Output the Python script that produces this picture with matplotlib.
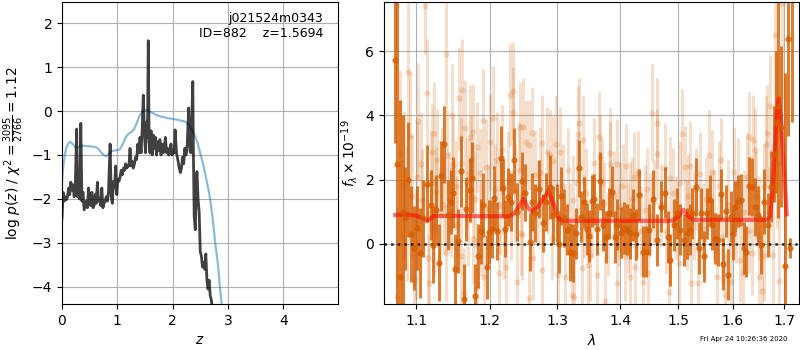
import matplotlib
matplotlib.use("Agg")
import matplotlib.pyplot as plt
from matplotlib.ticker import FixedLocator, FixedFormatter, NullLocator

# ---------------- left panel: redshift probability ----------------
z_pz = [0.00, 0.02, 0.04, 0.06, 0.08, 0.10, 0.12, 0.14, 0.16, 0.18,
        0.20, 0.22, 0.24, 0.265, 0.28, 0.30, 0.315, 0.34, 0.36, 0.38,
        0.40, 0.42, 0.44, 0.46, 0.48, 0.50, 0.52, 0.54, 0.56, 0.58,
        0.60, 0.62, 0.64, 0.66, 0.68, 0.70, 0.72, 0.74, 0.76, 0.78,
        0.80, 0.82, 0.84, 0.87, 0.89, 0.91, 0.93, 0.95, 0.97, 0.99,
        1.01, 1.03, 1.05, 1.07, 1.09, 1.11, 1.13, 1.15, 1.17, 1.19,
        1.21, 1.23, 1.25, 1.27, 1.29, 1.31, 1.33, 1.35, 1.37, 1.39,
        1.41, 1.43, 1.45, 1.47, 1.49, 1.51, 1.53, 1.545, 1.56, 1.575,
        1.59, 1.61, 1.63, 1.65, 1.67, 1.69, 1.71, 1.73, 1.75, 1.77,
        1.79, 1.81, 1.83, 1.85, 1.87, 1.89, 1.91, 1.93, 1.95, 1.97,
        1.99, 2.01, 2.03, 2.045, 2.07, 2.10, 2.12, 2.14, 2.16, 2.18,
        2.20, 2.22, 2.24, 2.26, 2.29, 2.31, 2.33, 2.365, 2.375, 2.39,
        2.41, 2.43, 2.44, 2.46, 2.48, 2.50, 2.52, 2.54, 2.56, 2.58,
        2.60, 2.62, 2.64, 2.66, 2.68, 2.70, 2.72]
logp = [-2.44, -1.85, -2.05, -1.95, -2.02, -1.95, -1.75, -1.90, -1.62, -1.80,
        -1.68, -1.95, -1.70, -0.41, -1.95, -1.55, -2.00, -0.28, -2.05, -1.85,
        -2.25, -2.15, -2.05, -2.20, -1.75, -2.10, -2.15, -1.85, -2.20, -2.15,
        -1.90, -2.10, -1.62, -2.05, -2.00, -2.15, -1.75, -2.20, -2.10, -2.05,
        -1.95, -2.05, -1.85, -0.75, -1.95, -2.10, -1.60, -1.75, -1.25, -1.90,
        -1.55, -1.60, -1.50, -1.35, -1.45, -1.30, -1.35, -1.20, -1.30, -1.25,
        -1.25, -0.85, -1.25, -1.15, -1.30, -1.20, -1.05, -1.10, -0.75, -0.95,
        -0.60, -0.95, -0.40, 0.36, -0.50, -0.95, -0.25, -0.60, 1.60, -0.70,
        -0.95, -0.45, -1.00, -0.55, -0.85, -0.60, -1.00, -0.70, -0.90, -0.65,
        -1.00, -0.75, -0.95, -0.85, -0.60, -0.95, -0.85, -1.00, -0.90, -0.75,
        -1.00, -0.90, -0.95, -0.43, -0.95, -1.15, -1.30, -1.40, -1.30, -1.05,
        -1.20, -0.85, -1.00, -0.90, 0.07, -0.75, -0.95, 0.67, -0.90, -2.40,
        -2.70, -1.60, -1.38, -2.00, -2.30, -3.20, -3.30, -3.55, -3.45, -3.60,
        -3.25, -3.85, -4.05, -3.85, -4.20, -4.30, -4.50]

z_chi = [0.00, 0.02, 0.05, 0.08, 0.12, 0.15, 0.20, 0.25, 0.30, 0.35,
         0.40, 0.45, 0.50, 0.55, 0.60, 0.65, 0.70, 0.75, 0.80, 0.85,
         0.90, 0.95, 1.00, 1.05, 1.10, 1.15, 1.20, 1.25, 1.30, 1.35,
         1.40, 1.45, 1.50, 1.55, 1.60, 1.65, 1.70, 1.75, 1.80, 1.85,
         1.90, 1.95, 2.00, 2.05, 2.10, 2.15, 2.20, 2.25, 2.30, 2.35,
         2.40, 2.45, 2.50, 2.55, 2.60, 2.65, 2.68, 2.72, 2.77, 2.82,
         2.86, 2.90]
chi_curve = [-1.60, -1.30, -1.00, -0.82, -0.73, -0.70, -0.76, -0.84, -0.82, -0.79,
             -0.79, -0.80, -0.80, -0.81, -0.82, -0.85, -0.93, -1.00, -1.03, -0.97,
             -0.91, -0.90, -0.89, -0.87, -0.75, -0.60, -0.52, -0.48, -0.42, -0.28,
             -0.11, -0.02, 0.02, 0.02, -0.03, -0.05, -0.09, -0.11, -0.13, -0.14,
             -0.16, -0.17, -0.18, -0.19, -0.20, -0.22, -0.23, -0.26, -0.33, -0.43,
             -0.56, -0.72, -0.96, -1.20, -1.50, -1.80, -2.02, -2.40, -3.00, -3.50,
             -4.07, -4.55]

obj_root = "j021524m0343"
obj_id = 882
obj_z = 1.5694
chi2_num, chi2_den, chi2_red = 3095, 2766, 1.12
stamp = "Fri Apr 24 10:26:36 2020"

# ---------------- right panel: spectrum ----------------
dark_wave = [1.0726, 1.0760, 1.0794, 1.0830, 1.0853, 1.0897, 1.0935, 1.0974, 1.1010, 1.1048,
             1.1095, 1.1148, 1.1193, 1.1228, 1.1268, 1.1308, 1.1335, 1.1375, 1.1420, 1.1461,
             1.1490, 1.1520, 1.1561, 1.1606, 1.1647, 1.1675, 1.1721, 1.1758, 1.1800, 1.1842,
             1.1875, 1.1907, 1.1955, 1.1993, 1.2030, 1.2063, 1.2111, 1.2159, 1.2197, 1.2226,
             1.2265, 1.2313, 1.2353, 1.2400, 1.2460, 1.2515, 1.2579, 1.2620, 1.2663, 1.2714,
             1.2779, 1.2829, 1.2880, 1.2930, 1.2992, 1.3030, 1.3059, 1.3100, 1.3146, 1.3197,
             1.3250, 1.3291, 1.3333, 1.3375, 1.3422, 1.3460, 1.3502, 1.3539, 1.3577, 1.3630,
             1.3678, 1.3727, 1.3771, 1.3825, 1.3869, 1.3918, 1.3957, 1.4011, 1.4067, 1.4111,
             1.4167, 1.4211, 1.4268, 1.4324, 1.4380, 1.4436, 1.4492, 1.4561, 1.4618, 1.4699,
             1.4758, 1.4816, 1.4857, 1.4915, 1.4975, 1.5033, 1.5093, 1.5152, 1.5200, 1.5242,
             1.5315, 1.5362, 1.5405, 1.5459, 1.5515, 1.5575, 1.5616, 1.5656, 1.5717, 1.5767,
             1.5822, 1.5866, 1.5903, 1.5967, 1.6000, 1.6042, 1.6093, 1.6144, 1.6202, 1.6246,
             1.6311, 1.6362, 1.6427, 1.6478, 1.6543, 1.6608, 1.6674, 1.6739, 1.6792, 1.6838,
             1.6885, 1.6939, 1.7006, 1.7067, 1.7108, 1.7158]
dark_flux = [5.74, 2.50, -1.02, 1.00, 0.80, 2.00, 0.30, -0.13, 0.50, -0.29,
             0.80, 1.87, 1.21, -0.03, 1.06, -0.58, 2.11, 3.10, 0.90, 1.30,
             1.60, -0.78, 0.09, 2.26, -1.71, 1.08, 1.67, 2.06, -1.62, -0.37,
             0.39, 1.22, -0.72, 0.38, 0.47, 1.43, 0.41, 2.66, 1.75, 0.48,
             1.47, 1.30, 2.60, 1.00, 1.96, 1.60, 0.07, 1.30, 0.95, 1.70,
             0.64, 1.30, 1.78, 0.90, 0.95, 0.00, 1.49, 0.80, 0.44, -0.26,
             -0.29, 0.33, 2.35, 0.85, 1.29, 0.46, 0.25, 1.33, 1.39, 0.46,
             1.96, 0.59, 0.21, 0.95, 1.63, 0.21, 0.60, 0.35, 0.50, 0.44,
             0.33, 0.90, 0.30, 1.52, -0.24, -0.24, 0.44, 1.40, 0.12, 1.16,
             1.60, 0.21, -0.50, 0.59, 0.95, 0.44, 0.12, 0.33, 0.44, 0.95,
             1.76, -0.13, 0.95, -0.39, 0.95, 1.36, 0.60, 0.16, 0.12, 1.54,
             -0.63, 1.03, -0.96, 0.85, 0.30, 1.16, 1.34, 1.37, -0.13, -0.24,
             1.80, 1.78, 1.16, 0.90, -0.03, 1.32, 0.60, 1.78, 2.80, 3.80,
             4.30, 3.65, -0.68, 6.37, -0.13, 7.80]
dark_err = [2.6, 6.0, 5.5, 3.0, 1.6, 1.8, 1.5, 1.3, 1.3, 1.4,
            1.2, 1.2, 1.1, 1.2, 1.1, 1.2, 1.1, 1.2, 1.1, 1.0,
            1.1, 1.1, 1.0, 1.1, 1.1, 1.0, 1.0, 1.1, 1.0, 1.0,
            1.0, 1.0, 1.0, 1.0, 0.9, 1.0, 0.9, 1.0, 0.9, 0.9,
            0.9, 0.9, 1.0, 0.9, 0.9, 0.9, 0.9, 0.9, 0.9, 0.9,
            0.9, 0.9, 1.0, 0.9, 0.9, 0.9, 0.9, 0.9, 0.8, 0.9,
            0.9, 0.8, 0.9, 0.8, 0.8, 0.8, 0.8, 0.8, 0.8, 0.8,
            0.9, 0.8, 0.8, 0.8, 0.8, 0.8, 0.8, 0.8, 0.8, 0.8,
            0.8, 0.8, 0.8, 0.8, 0.8, 0.8, 0.8, 0.9, 0.8, 0.8,
            0.8, 0.8, 0.8, 0.8, 0.8, 0.8, 0.8, 0.8, 0.8, 0.8,
            0.9, 0.8, 0.8, 0.8, 0.8, 0.8, 0.8, 0.8, 0.8, 0.8,
            0.8, 0.8, 0.8, 0.8, 0.8, 0.8, 0.8, 0.8, 0.8, 0.8,
            0.9, 0.9, 0.9, 0.9, 0.9, 1.0, 1.0, 1.1, 1.5, 2.2,
            3.5, 2.5, 6.0, 3.0, 0.3, 4.0]

light_wave = [1.0760, 1.0790, 1.0820, 1.0845, 1.0879, 1.0896, 1.0922, 1.0950, 1.0974, 1.1000,
              1.1017, 1.1030, 1.1060, 1.1082, 1.1113, 1.1148, 1.1150, 1.1170, 1.1190, 1.1205,
              1.1237, 1.1240, 1.1259, 1.1280, 1.1320, 1.1347, 1.1370, 1.1393, 1.1400, 1.1415,
              1.1437, 1.1460, 1.1480, 1.1485, 1.1530, 1.1540, 1.1566, 1.1597, 1.1600, 1.1619,
              1.1643, 1.1656, 1.1680, 1.1700, 1.1721, 1.1740, 1.1769, 1.1772, 1.1790, 1.1815,
              1.1824, 1.1860, 1.1880, 1.1912, 1.1920, 1.1950, 1.1980, 1.2011, 1.2047, 1.2070,
              1.2100, 1.2128, 1.2150, 1.2180, 1.2200, 1.2230, 1.2260, 1.2290, 1.2310, 1.2330,
              1.2340, 1.2370, 1.2392, 1.2420, 1.2442, 1.2450,
              1.2465, 1.2480, 1.2529, 1.2564, 1.2570, 1.2613, 1.2638, 1.2663, 1.2700, 1.2738,
              1.2763, 1.2768, 1.2839, 1.2860, 1.2889, 1.2914, 1.2940, 1.2981, 1.3017, 1.3042,
              1.3080, 1.3120, 1.3161, 1.3190, 1.3223, 1.3249, 1.3255, 1.3300, 1.3328, 1.3344,
              1.3380, 1.3407, 1.3412, 1.3450, 1.3487, 1.3514, 1.3550, 1.3578, 1.3621, 1.3664,
              1.3675, 1.3700, 1.3729, 1.3756, 1.3800, 1.3827, 1.3838, 1.3900, 1.3947, 1.3952,
              1.3980, 1.4003, 1.4050, 1.4086, 1.4102, 1.4140, 1.4169, 1.4174, 1.4200, 1.4236,
              1.4253, 1.4281, 1.4309, 1.4350, 1.4393, 1.4421, 1.4450, 1.4477, 1.4500, 1.4543,
              1.4580, 1.4618,
              1.4630, 1.4700, 1.4770, 1.4790, 1.4828, 1.4857, 1.4900, 1.4950, 1.5004, 1.5030,
              1.5064, 1.5111, 1.5150, 1.5180, 1.5213, 1.5231, 1.5280, 1.5320, 1.5351, 1.5394,
              1.5450, 1.5500, 1.5546, 1.5608, 1.5650, 1.5700, 1.5730, 1.5781, 1.5800, 1.5843,
              1.5900, 1.5968, 1.6012, 1.6060, 1.6100, 1.6139, 1.6183, 1.6220, 1.6266, 1.6300,
              1.6311, 1.6362, 1.6375, 1.6427, 1.6450, 1.6500, 1.6505, 1.6557, 1.6589, 1.6600,
              1.6642, 1.6655, 1.6700, 1.6721, 1.6767, 1.6810, 1.6850, 1.6887, 1.6954]
light_flux = [-1.64, 2.80, 0.20, 1.84, 0.95, 5.34, 3.37, 1.50, -1.12, 0.00,
              2.09, 3.84, 2.50, 1.37, 7.40, 4.69, -0.45, -1.22, 1.90, 2.87,
              3.44, 0.54, 1.63, 2.60, 0.90, 2.20, 1.20, 5.91, -0.29, 2.77,
              1.37, 1.00, 4.01, 2.46, 1.80, 0.60, 4.53, 2.51, -0.37, 4.79,
              -1.53, 3.60, 1.90, 0.80, 3.34, 2.60, 3.49, 0.15, 1.40, 3.03,
              -1.33, 2.20, 0.50, 3.86, -1.02, 2.40, 1.10, 3.16, 3.93, 1.70,
              2.60, -0.91, 1.20, 2.92, 0.40, -0.71, 2.00, 4.65, 0.90, 4.77,
              4.10, 1.60, -1.20, 2.30, 3.63, 0.33,
              0.28, 3.65, 3.18, 3.08, -1.69, 3.44, -0.45, 2.15, 1.30, 2.25,
              3.13, -0.81, 2.87, 1.60, 2.77, 0.18, 2.59, 3.11, -0.97, 2.87,
              1.80, -1.02, 2.30, 0.50, -1.59, 1.37, -1.64, 1.90, 3.42, 3.75,
              -0.76, 3.23, 0.85, 1.60, -0.65, -0.39, 0.90, 2.51, -0.96, 3.32,
              2.72, 1.90, 1.26, -1.79, 0.30, 2.82, 2.48, 1.50, -1.22, 2.48,
              0.60, 1.16, 1.80, -0.39, 2.44, 0.50, -1.02, 1.16, 1.40, 2.09,
              -0.71, 0.95, 2.20, 0.40, -1.17, 1.06, 1.70, -0.91, 0.90, 4.09,
              1.30, 3.75,
              2.80, 1.20, 2.35, 0.40, -1.49, 2.04, 1.60, 0.80, -0.60, 1.90,
              3.42, 2.38, 0.60, 1.50, 2.44, -1.22, 0.90, 1.70, -1.22, 2.18,
              0.50, 1.40, 2.77, 2.25, 0.90, -1.02, 1.80, 2.61, 0.20, -1.59,
              1.20, -1.20, 2.25, 0.70, 1.90, -0.50, -0.91, 1.00, 2.09, 0.40,
              3.34, -0.29, 3.23, 2.92, 1.50, 0.80, -1.02, -1.45, -0.39, 1.80,
              3.11, 3.46, 1.00, 4.29, -0.34, 6.50, 2.50, -1.15, 7.50]
light_err = [2.8, 2.6, 2.4, 2.3, 2.1, 2.2, 2.0, 1.9, 1.9, 1.7,
             1.7, 1.8, 1.6, 1.6, 1.5, 1.7, 1.6, 1.5, 1.6, 1.5,
             1.6, 1.5, 1.4, 1.6, 1.5, 1.4, 1.5, 1.7, 1.5, 1.4,
             1.5, 1.4, 1.6, 1.5, 1.4, 1.5, 1.6, 1.4, 1.5, 1.6,
             1.4, 1.5, 1.4, 1.5, 1.6, 1.4, 1.5, 1.4, 1.5, 1.4,
             1.5, 1.4, 1.5, 1.6, 1.4, 1.5, 1.4, 1.5, 1.6, 1.4,
             1.5, 1.4, 1.5, 1.4, 1.5, 1.4, 1.5, 1.6, 1.4, 1.5,
             1.4, 1.5, 1.4, 1.5, 1.4, 1.3,
             1.4, 1.5, 1.3, 1.4, 1.3, 1.4, 1.3, 1.4, 1.3, 1.4,
             1.5, 1.3, 1.4, 1.3, 1.4, 1.3, 1.4, 1.5, 1.3, 1.4,
             1.3, 1.4, 1.3, 1.4, 1.3, 1.4, 1.3, 1.4, 1.5, 1.4,
             1.3, 1.4, 1.3, 1.4, 1.3, 1.4, 1.3, 1.4, 1.3, 1.4,
             1.3, 1.4, 1.3, 1.4, 1.3, 1.4, 1.3, 1.4, 1.3, 1.4,
             1.3, 1.4, 1.3, 1.4, 1.3, 1.4, 1.3, 1.4, 1.3, 1.4,
             1.3, 1.4, 1.3, 1.4, 1.3, 1.4, 1.3, 1.4, 1.3, 1.5,
             1.3, 1.4,
             1.4, 1.3, 1.4, 1.3, 1.4, 1.3, 1.4, 1.3, 1.4, 1.3,
             1.4, 1.3, 1.4, 1.3, 1.4, 1.3, 1.4, 1.3, 1.4, 1.3,
             1.4, 1.3, 1.4, 1.3, 1.4, 1.3, 1.4, 1.3, 1.4, 1.3,
             1.4, 1.3, 1.4, 1.3, 1.4, 1.3, 1.4, 1.3, 1.4, 1.3,
             1.4, 1.3, 1.4, 1.3, 1.4, 1.3, 1.4, 1.3, 1.4, 1.3,
             1.5, 1.5, 1.4, 1.6, 1.5, 3.0, 2.0, 2.5, 3.0]

model_wave = [1.073, 1.085, 1.100, 1.108, 1.114, 1.120, 1.123, 1.150, 1.200, 1.227,
              1.235, 1.242, 1.249, 1.255, 1.261, 1.270, 1.280, 1.2865, 1.293, 1.300,
              1.304, 1.310, 1.350, 1.400, 1.450, 1.489, 1.500, 1.509, 1.518, 1.527,
              1.560, 1.600, 1.640, 1.666, 1.672, 1.676, 1.680, 1.684, 1.689, 1.693,
              1.697, 1.700, 1.705]
model_flux = [0.90, 0.92, 0.88, 0.80, 0.72, 0.80, 0.87, 0.87, 0.86, 0.86,
              0.95, 1.15, 1.40, 1.15, 1.00, 1.15, 1.45, 1.66, 1.30, 0.90,
              0.75, 0.72, 0.72, 0.72, 0.72, 0.72, 0.85, 1.06, 0.85, 0.75,
              0.75, 0.75, 0.75, 0.75, 0.85, 1.47, 2.60, 3.80, 4.53, 3.90,
              3.00, 2.20, 0.92]

lam_ticks = [1.1, 1.2, 1.3, 1.4, 1.5, 1.6, 1.7]
lam_tick_labels = ["1.1", "1.2", "1.3", "1.4", "1.5", "1.6", "1.7"]

assert len(dark_wave) == len(dark_flux) == len(dark_err)
assert len(light_wave) == len(light_flux) == len(light_err)
assert len(z_pz) == len(logp)
assert len(z_chi) == len(chi_curve)
assert len(model_wave) == len(model_flux)

G141 = (0.8352941176470589, 0.3686274509803922, 0.0)

fig = plt.figure(figsize=(8, 3.5), dpi=100)
ax1 = fig.add_axes([62/800, 46/350, 276/800, 302/350])
ax2 = fig.add_axes([384/800, 46/350, 415/800, 302/350])

# left
ax1.plot(z_chi, chi_curve, color='tab:blue', alpha=0.5, lw=1.6)
ax1.plot(z_pz, logp, color='k', alpha=0.75, lw=2.0)
ax1.set_xlim(0, 4.99)
ax1.set_ylim(-4.39, 2.48)
ax1.set_xticks([0, 1, 2, 3, 4])
ax1.set_yticks([-4, -3, -2, -1, 0, 1, 2])
ax1.grid(True)
ax1.set_xlabel(r'$z$')
ax1.set_ylabel(r'log $p(z)$ / $\chi^2=\frac{%d}{%d}=%.2f$' % (chi2_num, chi2_den, chi2_red))
ax1.text(0.947, 0.968, '%s\nID=%d    z=%.4f' % (obj_root, obj_id, obj_z),
         transform=ax1.transAxes, ha='right', va='top', fontsize=9)

# right
ax2.errorbar(light_wave, light_flux, light_err, color=G141, alpha=0.2,
             marker='o', ms=4.5, mew=0, linestyle='None', elinewidth=2.2)
ax2.errorbar(dark_wave, dark_flux, dark_err, color=G141, alpha=0.8,
             marker='o', ms=4.5, mew=0, linestyle='None', elinewidth=2.2)
ax2.plot(model_wave, model_flux, color='r', alpha=0.55, lw=3)
ax2.set_xscale('log')
ax2.set_xlim(1.059, 1.730)
ax2.set_ylim(-1.87, 7.53)
ax2.plot([1.059, 1.730], [0, 0], color='k', linestyle=':', lw=1.8, alpha=0.8)
ax2.xaxis.set_major_locator(FixedLocator(lam_ticks))
ax2.xaxis.set_major_formatter(FixedFormatter(lam_tick_labels))
ax2.xaxis.set_minor_locator(NullLocator())
ax2.set_yticks([0, 2, 4, 6])
ax2.grid(True)
ax2.set_xlabel(r'$\lambda$')
ax2.set_ylabel(r'$f_\lambda \times 10^{-19}$')

fig.text(787/800, 11/350, stamp, ha='right', va='center', fontsize=5)

fig.savefig('out.png', dpi=100)
